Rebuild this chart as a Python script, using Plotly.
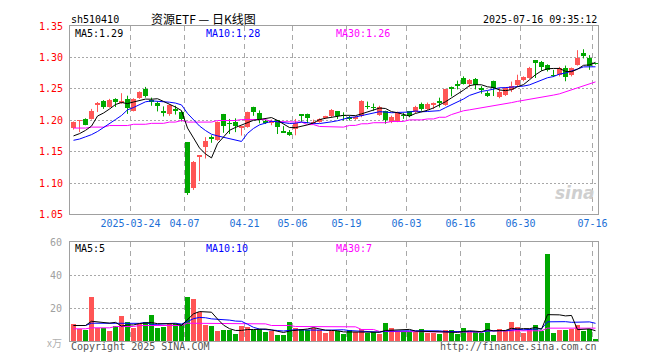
import pandas as pd
import plotly.graph_objects as go

# ---------------- data ----------------
holidays = ["2025-04-04", "2025-05-01", "2025-05-02", "2025-05-05", "2025-06-02"]
dates = [d.strftime("%Y-%m-%d") for d in pd.bdate_range("2025-03-10", "2025-07-16")
         if d.strftime("%Y-%m-%d") not in holidays]

opens = [1.188, 1.199, 1.202, 1.202, 1.225, 1.231, 1.221, 1.234, 1.228, 1.233,
         1.215, 1.235, 1.249, 1.232, 1.228, 1.215, 1.210, 1.217, 1.2135, 1.1645,
         1.0915, 1.142, 1.157, 1.174, 1.168, 1.210, 1.1953, 1.1964, 1.188, 1.189,
         1.2208, 1.2115, 1.199, 1.195, 1.200, 1.1828, 1.182, 1.1854, 1.2094, 1.2104,
         1.196, 1.197, 1.204, 1.206, 1.2146, 1.2078, 1.2047, 1.2026, 1.2063, 1.2224,
         1.2208, 1.209, 1.2151, 1.1969, 1.1984, 1.2078, 1.214, 1.2125, 1.2255, 1.2177,
         1.2250, 1.2297, 1.2245, 1.2536, 1.2562, 1.2672, 1.2578, 1.2661, 1.251, 1.2427,
         1.262, 1.2375, 1.2401, 1.2474, 1.2557, 1.2635, 1.2672, 1.2958, 1.2932, 1.288,
         1.2719, 1.2714, 1.2828, 1.2714, 1.288, 1.3063, 1.2995, 1.2901]
highs = [1.198, 1.200, 1.203, 1.218, 1.229, 1.232, 1.234, 1.235, 1.243, 1.239,
         1.235, 1.246, 1.253, 1.236, 1.230, 1.222, 1.225, 1.223, 1.2145, 1.165,
         1.135, 1.144, 1.173, 1.176, 1.198, 1.210, 1.202, 1.203, 1.190, 1.2135,
         1.2215, 1.2156, 1.201, 1.201, 1.200, 1.1906, 1.1844, 1.202, 1.2094, 1.2104,
         1.201, 1.203, 1.207, 1.2177, 1.2146, 1.2125, 1.2073, 1.2068, 1.2318, 1.2297,
         1.2266, 1.223, 1.2151, 1.2073, 1.2135, 1.2115, 1.214, 1.2229, 1.2281, 1.2281,
         1.2281, 1.2359, 1.250, 1.2536, 1.263, 1.2698, 1.2656, 1.2672, 1.2542, 1.2464,
         1.263, 1.2516, 1.2526, 1.2615, 1.2724, 1.2698, 1.2849, 1.2958, 1.2943, 1.289,
         1.2802, 1.2849, 1.287, 1.2839, 1.3115, 1.313, 1.3036, 1.2911]
lows = [1.185, 1.181, 1.192, 1.201, 1.213, 1.218, 1.220, 1.221, 1.226, 1.210,
        1.214, 1.234, 1.236, 1.223, 1.214, 1.206, 1.207, 1.209, 1.198, 1.081,
        1.089, 1.103, 1.139, 1.164, 1.167, 1.180, 1.178, 1.181, 1.1755, 1.188,
        1.207, 1.195, 1.194, 1.192, 1.178, 1.180, 1.175, 1.176, 1.197, 1.195,
        1.195, 1.196, 1.202, 1.205, 1.202, 1.1995, 1.1995, 1.2005, 1.2047, 1.2177,
        1.2151, 1.207, 1.1943, 1.1953, 1.1969, 1.2021, 1.2047, 1.211, 1.2151, 1.2161,
        1.2177, 1.2203, 1.2229, 1.238, 1.249, 1.2568, 1.2526, 1.249, 1.2422, 1.237,
        1.2385, 1.2349, 1.2385, 1.2448, 1.2542, 1.262, 1.2661, 1.2672, 1.2786, 1.2776,
        1.2687, 1.2698, 1.262, 1.2698, 1.287, 1.2984, 1.2802, 1.2885]
closes = [1.197, 1.200, 1.193, 1.215, 1.228, 1.221, 1.232, 1.229, 1.231, 1.219,
          1.234, 1.245, 1.239, 1.230, 1.223, 1.2125, 1.224, 1.215, 1.202, 1.084,
          1.134, 1.144, 1.167, 1.171, 1.197, 1.1906, 1.194, 1.190, 1.190, 1.2125,
          1.2125, 1.201, 1.196, 1.199, 1.1896, 1.181, 1.176, 1.1953, 1.2073, 1.2031,
          1.197, 1.202, 1.206, 1.2167, 1.2073, 1.2068, 1.202, 1.2036, 1.2307, 1.2214,
          1.2198, 1.221, 1.2005, 1.2057, 1.2125, 1.2068, 1.2073, 1.2214, 1.2182, 1.2255,
          1.2255, 1.2286, 1.249, 1.249, 1.2552, 1.2578, 1.2646, 1.2568, 1.2474, 1.2396,
          1.2516, 1.2453, 1.2516, 1.2547, 1.2635, 1.2682, 1.2839, 1.2917, 1.2854, 1.2802,
          1.2708, 1.2839, 1.2688, 1.2828, 1.2995, 1.3021, 1.287, 1.2896]
volumes = [10, 7.2, 6.4, 26.4, 7.8, 7.8, 5.8, 8.8, 15, 11.4,
           7.8, 10, 11.4, 15.6, 7.8, 8.4, 10.4, 10, 10.4, 26.4,
           25.2, 17.4, 9.6, 8.8, 5.8, 6.6, 6.6, 4.2, 9, 8.4,
           6.6, 7, 5.4, 6.2, 3.6, 3.6, 11.4, 7.8, 7, 6.6,
           7.8, 6.6, 4.8, 6.2, 5.8, 4.2, 6.4, 5.2, 7, 4.8,
           5.4, 4.2, 10.6, 7.6, 6.2, 5.4, 5.4, 5.4, 7.2, 4.8,
           4.8, 4.2, 6.6, 6.4, 4.2, 7.6, 6.2, 5.4, 4.8, 10.6,
           3.6, 7.2, 5.8, 11.4, 8.4, 4.8, 7, 9.6, 6, 52.6,
           4.8, 6.4, 6.4, 7.4, 9.6, 5.8, 7.4, 1]

ma5_head = [1.175, 1.1786, 1.1838, 1.1906]
ma10_head = [1.168, 1.170, 1.1735, 1.177, 1.182, 1.188, 1.194, 1.201, 1.2075]
ma30_price = [1.1875, 1.1875, 1.1875, 1.189, 1.189, 1.189, 1.1915, 1.1915, 1.1915, 1.1915,
              1.1935, 1.1935, 1.1935, 1.195, 1.195, 1.195, 1.197, 1.197, 1.1995, 1.197,
              1.197, 1.197, 1.197, 1.197, 1.1995, 1.1995, 1.1995, 1.1995, 1.201, 1.201,
              1.201, 1.201, 1.201, 1.198, 1.198, 1.198, 1.197, 1.197, 1.197, 1.193,
              1.193, 1.190, 1.190, 1.190, 1.189, 1.189, 1.1917, 1.1917, 1.1943, 1.1943,
              1.196, 1.196, 1.196, 1.198, 1.198, 1.198, 1.2005, 1.2005, 1.2005, 1.202,
              1.202, 1.2047, 1.2047, 1.209, 1.212, 1.215, 1.2165, 1.218, 1.220, 1.2215,
              1.223, 1.2245, 1.2265, 1.228, 1.230, 1.2315, 1.233, 1.2345, 1.236, 1.238,
              1.240, 1.242, 1.245, 1.248, 1.252, 1.255, 1.258, 1.261]
vol_ma5_head = [9.4, 9.4, 9.4, 12.0]
vol_ma10_head = [9.4, 9.4, 9.4, 10.8, 10.8, 10.8, 10.8, 10.8, 10.8]
vol_ma30 = [7.4, 7.4, 7.4, 8, 8, 8, 8, 8.8, 8.8, 8.8,
            8.8, 9.4, 9.4, 9.4, 9.4, 9.4, 9.4, 9.4, 9.4, 10.8,
            10.8, 10.8, 10.8, 10.8, 10.8, 10.8, 10.8, 10.8, 10.8, 10.4,
            10.4, 10.4, 10.4, 9.4, 9.4, 9.4, 9.4, 8.8, 8.8, 8.8,
            8.8, 8.8, 8.8, 8.8, 8.6, 8.6, 8.6, 8.6, 7, 7,
            7, 5.8, 5.8, 5.8, 5.8, 5.8, 5.8, 5.8, 5.8, 5.8,
            5.4, 5.4, 5.4, 5.4, 5.4, 5.4, 5.4, 5.4, 5.4, 6.2,
            6.2, 6.2, 6.2, 6.2, 6.2, 6.2, 6.2, 6.2, 6.2, 7.8,
            7.8, 7.8, 7.8, 7.8, 7.8, 7.8, 7.8, 7.8]

tick_dates = ["2025-03-24", "2025-04-07", "2025-04-21", "2025-05-06", "2025-05-19",
              "2025-06-03", "2025-06-16", "2025-06-30", "2025-07-16"]
tick_labels = ["2025-03-24", "04-07", "04-21", "05-06", "05-19",
               "06-03", "06-16", "06-30", "07-16"]
price_ticks = [1.05, 1.10, 1.15, 1.20, 1.25, 1.30, 1.35]
vol_ticks = [20, 40, 60]

# ---------------- derived ----------------
n = len(dates)
xs = list(range(n))
cs = pd.Series(closes)
vs = pd.Series(volumes)
ma5 = ma5_head + cs.rolling(5).mean().tolist()[len(ma5_head):]
ma10 = ma10_head + cs.rolling(10).mean().tolist()[len(ma10_head):]
vma5 = vol_ma5_head + vs.rolling(5).mean().tolist()[len(vol_ma5_head):]
vma10 = vol_ma10_head + vs.rolling(10).mean().tolist()[len(vol_ma10_head):]

RED = "#FF5555"
GREEN = "#00A800"
up = [c >= o for o, c in zip(opens, closes)]

fig = go.Figure()

for flag, col in [(True, RED), (False, GREEN)]:
    idx = [i for i in xs if up[i] == flag]
    wx, wy = [], []
    for i in idx:
        wx += [i, i, None]
        wy += [lows[i], highs[i], None]
    fig.add_trace(go.Scatter(x=wx, y=wy, mode="lines", line=dict(color=col, width=1),
                             xaxis="x", yaxis="y", hoverinfo="skip"))
    fig.add_trace(go.Bar(x=idx,
                         base=[min(opens[i], closes[i]) for i in idx],
                         y=[max(abs(closes[i] - opens[i]), 0.0009) for i in idx],
                         width=0.83, marker=dict(color=col, line=dict(width=0)),
                         xaxis="x", yaxis="y"))
    fig.add_trace(go.Bar(x=idx, y=[volumes[i] for i in idx], width=0.83,
                         marker=dict(color=col, line=dict(width=0)),
                         xaxis="x2", yaxis="y2"))

for vals, col in [(ma30_price, "#FF00FF"), (ma10, "#0000FF"), (ma5, "#000000")]:
    fig.add_trace(go.Scatter(x=xs, y=vals, mode="lines", line=dict(color=col, width=1),
                             xaxis="x", yaxis="y"))
for vals, col in [(vol_ma30, "#FF00FF"), (vma10, "#0000FF"), (vma5, "#000000")]:
    fig.add_trace(go.Scatter(x=xs, y=vals, mode="lines", line=dict(color=col, width=1),
                             xaxis="x2", yaxis="y2"))

tickvals = [dates.index(d) - 0.5 for d in tick_dates]
MONO = "DejaVu Sans Mono, Liberation Mono, monospace"
xr = [-0.5 - 0.5 / 6, n - 0.5 - 0.5 / 6]
axis_common = dict(showline=True, linecolor="#A0A0A0", linewidth=1, mirror=True,
                   zeroline=False, gridcolor="#A8A8A8", gridwidth=1)

# the page body adds an 8px offset, so the figure is 8px smaller than the window
OFF = 8
fig.update_layout(
    width=660 - OFF, height=360 - OFF,
    margin=dict(l=70 - OFF, r=62, t=20 - OFF, b=19, pad=0),
    paper_bgcolor="white", plot_bgcolor="white",
    showlegend=False, barmode="overlay", bargap=0,
    font=dict(family=MONO, size=10, color="#000000"),
    xaxis=dict(domain=[0, 1], range=xr, anchor="y", tickmode="array",
               tickvals=tickvals, ticktext=tick_labels, showgrid=True,
               griddash="5px,4px", ticks="",
               tickfont=dict(family=MONO, size=10, color="#1C6FD6"),
               **axis_common),
    yaxis=dict(domain=[0.4019, 1], range=[1.05, 1.35], anchor="x", tickmode="array",
               tickvals=price_ticks, ticktext=["%.2f" % v for v in price_ticks],
               showgrid=True, griddash="2px,2px", ticks="", ticklabelstandoff=4,
               tickfont=dict(family=MONO, size=10, color="#FF0000"), **axis_common),
    xaxis2=dict(domain=[0, 1], range=xr, anchor="y2", tickmode="array",
                tickvals=tickvals, showticklabels=False, showgrid=True,
                griddash="5px,4px", ticks="", **axis_common),
    yaxis2=dict(domain=[0, 0.3137], range=[0, 60], anchor="x2", tickmode="array",
                tickvals=vol_ticks, showgrid=True, griddash="2px,2px", ticks="",
                ticklabelstandoff=5,
                tickfont=dict(family=MONO, size=10, color="#A0A0A0"), **axis_common),
)

W0, H0 = 70.0, 20.0
PW, PH = 528.0, 321.0


def px(x):
    return (x - W0) / PW


def py(y):
    return 1 - (y - H0) / PH


def note(text, x, y, color="#000000", xanchor="left", size=10, family=MONO):
    fig.add_annotation(text=text, x=px(x), y=py(y), xref="paper", yref="paper",
                       xanchor=xanchor, yanchor="middle", showarrow=False, borderpad=0,
                       font=dict(family=family, size=size, color=color))


note("sh510410", 70, 13)
note("资源ETF — 日K线图", 150, 12, size=12,
     family="Noto Sans CJK SC, Noto Sans, sans-serif")
note("2025-07-16 09:35:12", 597.5, 13, xanchor="right")
note("MA5:1.29", 74, 27.5)
note("MA10:1.28", 204.5, 27.5, color="#0000FF")
note("MA30:1.26", 334.5, 27.5, color="#FF00FF")
note("MA5:5", 74, 247)
note("MA10:10", 204.5, 247, color="#0000FF")
note("MA30:7", 334.5, 247, color="#FF00FF")
note("Copyright 2025 SINA.COM", 70, 347, color="#555555")
note("http://finance.sina.com.cn", 597.5, 347, color="#555555", xanchor="right")
note("x万", 63, 343, color="#B0B0B0", xanchor="right", size=10,
     family="Noto Sans CJK SC, sans-serif")
note("<b><i>sina</i></b>", 596, 190, color="#CFCFCF", xanchor="right", size=17,
     family="DejaVu Sans, sans-serif")

fig.write_html("out.html")
